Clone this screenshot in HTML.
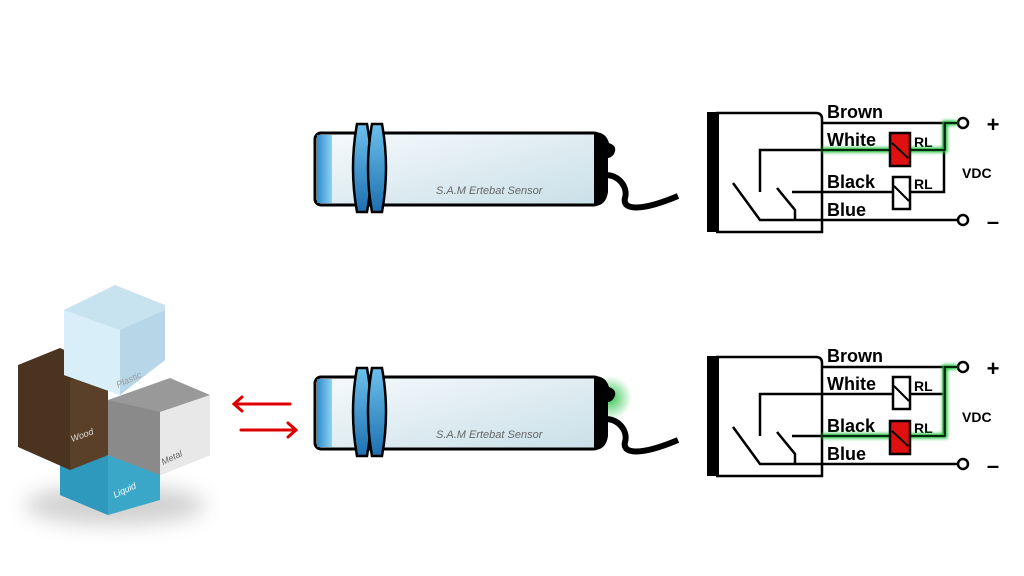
<!DOCTYPE html>
<html><head><style>body{margin:0;background:#fff}svg{display:block}</style></head><body>
<svg width="1024" height="576" viewBox="0 0 1024 576" xmlns="http://www.w3.org/2000/svg">
<defs>
<linearGradient id="body" x1="0" y1="0" x2="1" y2="1"><stop offset="0" stop-color="#f6fafc"/><stop offset="1" stop-color="#c9dfe8"/></linearGradient>
<linearGradient id="ring" x1="0" y1="0" x2="0" y2="1"><stop offset="0" stop-color="#6cc0ec"/><stop offset="1" stop-color="#1e6fb0"/></linearGradient>
<linearGradient id="tip" x1="0" y1="0" x2="1" y2="0"><stop offset="0" stop-color="#2d8ccc"/><stop offset="1" stop-color="#8fd2f4"/></linearGradient>
<radialGradient id="glow"><stop offset="0" stop-color="#20c040" stop-opacity="0.9"/><stop offset="1" stop-color="#20c040" stop-opacity="0"/></radialGradient>
<filter id="gf" x="-50%" y="-50%" width="200%" height="200%"><feGaussianBlur stdDeviation="1.5"/></filter>
<filter id="sh" x="-50%" y="-50%" width="200%" height="200%"><feGaussianBlur stdDeviation="10"/></filter>
</defs>

<circle cx="610" cy="398" r="22" fill="url(#glow)"/>
<!-- sensors -->
<g id="s1">
<path d="M605 175 C620 175 628 188 625 198 C622 210 640 212 678 196" fill="none" stroke="#000" stroke-width="6"/>
<rect x="315" y="133" width="285" height="72" rx="6" fill="url(#body)" stroke="#000" stroke-width="3"/>
<path d="M594 132 Q606 132 609 143 Q618 146 614 154 Q611 158 608 158 L608 192 Q606 206 594 206 Z" fill="#000"/>
<rect x="317" y="135" width="15" height="68" fill="url(#tip)"/>
<path d="M357 124 L367 124 Q375 168 367 212 L357 212 Q349 168 357 124Z" fill="url(#ring)" stroke="#000" stroke-width="2.5"/>
<path d="M372 124 L382 124 Q390 168 382 212 L372 212 Q364 168 372 124Z" fill="url(#ring)" stroke="#000" stroke-width="2.5"/>
<text x="436" y="194" font-family="Liberation Sans,sans-serif" font-style="italic" font-size="11" fill="#666">S.A.M Ertebat  Sensor</text>
</g>
<use href="#s1" transform="translate(0,244)"/>

<!-- schematics -->
<g id="sch" font-family="Liberation Sans,sans-serif" font-weight="bold" fill="none" stroke="#000" stroke-width="2.5">
<rect x="707" y="112" width="12" height="120" fill="#000" stroke="none"/>
<path d="M716 113 L816 113 Q822 113 822 119 L822 232 L716 232"/>
<path d="M822 123 L944 123 L944 192 L910 192"/>
<path d="M822 150 L944 150"/>
<path d="M760 192 L760 150 L822 150"/>
<path d="M822 192 L893 192"/>
<path d="M792 192 L822 192"/>
<path d="M733 183 L760 220 L957 220"/>
<path d="M777 188 L795 210 L795 220"/>
<path d="M944 123 L957 123"/>
<circle cx="963" cy="123" r="5" fill="#fff"/>
<circle cx="963" cy="220" r="5" fill="#fff"/>
<text x="993" y="132" font-size="22" fill="#000" stroke="none" text-anchor="middle">+</text>
<text x="993" y="229" font-size="22" fill="#000" stroke="none" text-anchor="middle">–</text>
<text x="962" y="178" font-size="14" fill="#000" stroke="none">VDC</text>
<g fill="#000" stroke="none" font-size="18">
<text x="827" y="118">Brown</text><text x="827" y="146">White</text><text x="827" y="188">Black</text><text x="827" y="216">Blue</text>
</g>
<g fill="#000" stroke="none" font-size="14">
<text x="914" y="147">RL</text><text x="914" y="189">RL</text>
</g>
</g>
<use href="#sch" transform="translate(0,244)"/>

<!-- top active -->
<path d="M822 150 L945 150 L945 123 L957 123" fill="none" stroke="#22c040" stroke-width="5" filter="url(#gf)"/>
<path d="M822 150 L945 150 L945 123 L957 123" fill="none" stroke="#000" stroke-width="1.5"/>
<rect x="890" y="133" width="20" height="33" fill="#e01010" stroke="#000" stroke-width="2.5"/>
<path d="M892 143 L908 158" stroke="#000" stroke-width="2"/>
<rect x="893" y="177" width="17" height="32" fill="#fff" stroke="#000" stroke-width="2.5"/>
<path d="M894 186 L909 201" stroke="#000" stroke-width="2"/>
<!-- bottom -->
<path d="M822 436 L945 436 L945 367 L957 367" fill="none" stroke="#22c040" stroke-width="5" filter="url(#gf)"/>
<path d="M822 436 L945 436 L945 367 L957 367" fill="none" stroke="#000" stroke-width="1.5"/>
<rect x="893" y="377" width="17" height="32" fill="#fff" stroke="#000" stroke-width="2.5"/>
<path d="M894 386 L909 401" stroke="#000" stroke-width="2"/>
<rect x="890" y="421" width="20" height="33" fill="#e01010" stroke="#000" stroke-width="2.5"/>
<path d="M892 431 L908 446" stroke="#000" stroke-width="2"/>

<!-- cubes -->
<ellipse cx="115" cy="505" rx="90" ry="20" fill="#999" opacity="0.45" filter="url(#sh)"/>
<polygon points="60,435 100,420 160,440 160,500 108,515 60,495" fill="#3aa7c8"/>
<polygon points="60,435 108,455 108,515 60,495" fill="#2f98bd"/>
<polygon points="18,365 60,348 108,370 108,455 70,470 18,447" fill="#4a3420"/>
<polygon points="70,380 108,370 108,455 70,470" fill="#5a4028"/>
<polygon points="108,400 170,378 210,395 210,455 160,475 108,455" fill="#999"/>
<polygon points="160,412 210,395 210,455 160,475" fill="#e8e8e8"/>
<polygon points="108,400 160,412 160,475 108,455" fill="#8a8a8a"/>
<polygon points="64,310 115,285 165,305 165,360 120,395 64,375" fill="#c7e3f0"/>
<polygon points="64,310 120,330 120,395 64,375" fill="#d8eef8"/>
<polygon points="120,330 165,310 165,360 120,395" fill="#b7d7e8"/>
<g font-family="Liberation Sans,sans-serif" font-style="italic" font-size="9">
<text x="118" y="388" fill="#999" transform="rotate(-25 118 388)">Plastic</text>
<text x="72" y="442" fill="#ddd" transform="rotate(-20 72 442)">Wood</text>
<text x="163" y="465" fill="#666" transform="rotate(-25 163 465)">Metal</text>
<text x="115" y="498" fill="#fff" transform="rotate(-25 115 498)">Liquid</text>
</g>

<!-- arrows -->
<g stroke="#d00" stroke-width="3" fill="none" stroke-linecap="round">
<path d="M290 404 L234 404 M242 397 L234 404 L242 411"/>
<path d="M241 430 L296 430 M288 423 L296 430 L288 437"/>
</g>
</svg>
</body></html>
